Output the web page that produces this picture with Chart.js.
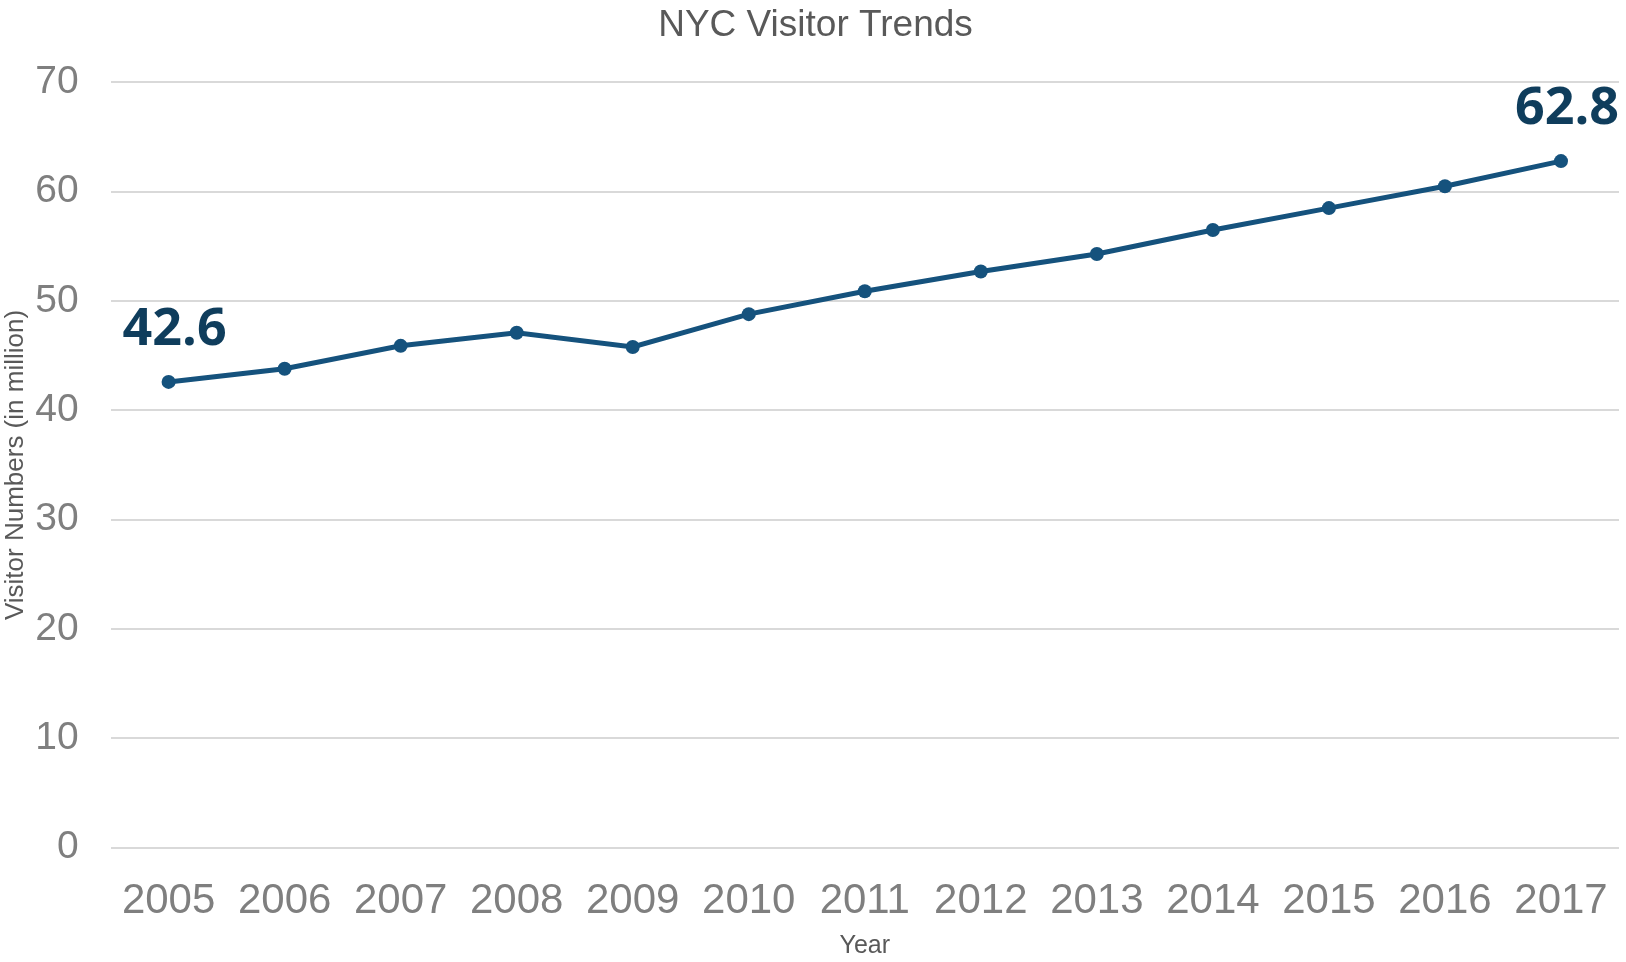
<!DOCTYPE html>
<html>
<head>
<meta charset="utf-8">
<title>NYC Visitor Trends</title>
<script src="https://cdn.jsdelivr.net/npm/chart.js@4/dist/chart.umd.min.js"></script>
<style>
  html, body { margin: 0; padding: 0; background: #fff; }
  #chart { display: block; }
</style>
</head>
<body>
<canvas id="chart" width="1626" height="962"></canvas>
<script>
// visitors per year, millions
const years = ["2005", "2006", "2007", "2008", "2009", "2010", "2011",
               "2012", "2013", "2014", "2015", "2016", "2017"];
const visitors = [42.6, 43.8, 45.9, 47.1, 45.8, 48.8, 50.9,
                  52.7, 54.3, 56.5, 58.5, 60.5, 62.8];
// only the first and last years get a value label
const labelledPoints = [0, visitors.length - 1];

const sans = "'Liberation Sans', Arial, sans-serif";
const lineColor = "#15527d";
const noColor = "rgba(0,0,0,0)";

// big bold value labels above the end points
const endLabels = {
  id: "endLabels",
  afterDatasetsDraw(chart) {
    const ctx = chart.ctx;
    const meta = chart.getDatasetMeta(0);
    ctx.save();
    ctx.font = "700 52px 'Open Sans', sans-serif";
    ctx.fillStyle = "#0f3d5c";
    ctx.textAlign = "center";
    ctx.textBaseline = "middle";
    labelledPoints.forEach(i => {
      const pt = meta.data[i];
      ctx.fillText(visitors[i].toFixed(1), pt.x + 6, pt.y - 52);
    });
    ctx.restore();
  }
};

new Chart(document.getElementById("chart"), {
  type: "line",
  data: {
    labels: years,
    datasets: [{
      label: "Visitors",
      data: visitors,
      borderColor: lineColor,
      backgroundColor: lineColor,
      borderWidth: 5,
      pointRadius: 7,
      pointBackgroundColor: lineColor,
      pointBorderWidth: 0,
      tension: 0
    }]
  },
  options: {
    responsive: false,
    devicePixelRatio: 1,
    animation: false,
    layout: { padding: { left: 0, right: -5, top: 0, bottom: 0 } },
    plugins: {
      legend: { display: false },
      tooltip: { enabled: false },
      title: {
        display: true,
        text: "NYC Visitor Trends",
        color: "#595959",
        font: { family: sans, size: 37, weight: "normal" },
        padding: { top: 4, bottom: 34 }
      }
    },
    scales: {
      x: {
        offset: true,
        // invisible tick marks give the gap below the plot
        grid: { drawOnChartArea: false, tickLength: 29, tickColor: noColor, color: noColor },
        border: { display: false },
        ticks: {
          color: "#7f7f7f",
          font: { family: sans, size: 42 },
          padding: 0,
          maxRotation: 0,
          autoSkip: false
        },
        title: {
          display: true,
          text: "Year",
          color: "#595959",
          font: { family: sans, size: 25 },
          padding: { top: 4, bottom: 1 }
        }
      },
      y: {
        min: 0,
        max: 70,
        ticks: {
          stepSize: 10,
          color: "#7f7f7f",
          font: { family: sans, size: 39 },
          padding: 0
        },
        grid: { color: "#d9d9d9", lineWidth: 2, tickLength: 32, tickColor: noColor },
        border: { display: false },
        title: {
          display: true,
          text: "Visitor Numbers (in million)",
          color: "#595959",
          font: { family: sans, size: 26 },
          padding: { top: 0, bottom: 4 }
        }
      }
    }
  },
  plugins: [endLabels]
});
</script>
</body>
</html>
